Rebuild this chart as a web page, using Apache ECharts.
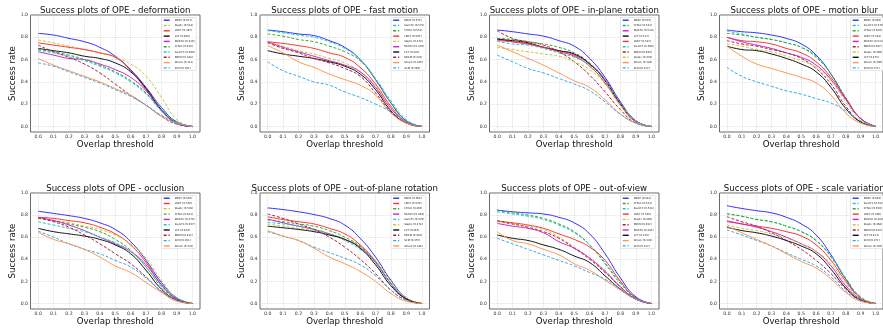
<!DOCTYPE html>
<html><head><meta charset="utf-8">
<script src="https://cdn.jsdelivr.net/npm/echarts@6/dist/echarts.min.js"></script>
<style>html,body{margin:0;padding:0;background:#fff}#c{width:883px;height:329px}</style>
</head><body><div id="c"></div>
<script>
// ---------- data ----------
const thresholds = [0, 0.1, 0.2, 0.3, 0.4, 0.5, 0.6, 0.7, 0.8, 0.9, 1.0];
const xTicks = [0, 0.1, 0.2, 0.3, 0.4, 0.5, 0.6, 0.7, 0.8, 0.9, 1.0];
const yTicks = [0, 0.2, 0.4, 0.6, 0.8, 1.0];
const attributes = ['deformation', 'fast motion', 'in-plane rotation', 'motion blur',
  'occlusion', 'out-of-plane rotation', 'out-of-view', 'scale variation'];

const orderDeformation = ['MBST','Staple','LMCF','LCT','MUSTer','CFNet','SiamFC','MEEM','Struck','SCM'];
const scoreDeformation = [0.517,0.514,0.487,0.486,0.436,0.426,0.409,0.388,0.312,0.301];
const curvesDeformation = {
  MBST:   [0.835,0.82,0.79,0.76,0.71,0.63,0.51,0.35,0.17,0.04,0.0],
  Staple: [0.775,0.75,0.72,0.69,0.66,0.62,0.56,0.45,0.26,0.06,0.0],
  LMCF:   [0.75,0.73,0.71,0.69,0.66,0.62,0.50,0.33,0.15,0.03,0.0],
  LCT:    [0.70,0.68,0.66,0.63,0.61,0.57,0.49,0.34,0.15,0.03,0.0],
  MUSTer: [0.67,0.64,0.61,0.60,0.56,0.51,0.44,0.32,0.14,0.03,0.0],
  CFNet:  [0.69,0.67,0.64,0.60,0.55,0.49,0.41,0.30,0.14,0.04,0.0],
  SiamFC: [0.685,0.66,0.63,0.59,0.54,0.48,0.40,0.29,0.15,0.04,0.0],
  MEEM:   [0.73,0.67,0.62,0.56,0.48,0.38,0.28,0.19,0.09,0.02,0.0],
  Struck: [0.61,0.55,0.50,0.45,0.40,0.34,0.28,0.19,0.09,0.03,0.0],
  SCM:    [0.57,0.54,0.49,0.44,0.39,0.33,0.27,0.19,0.10,0.03,0.0]
};

const orderFastMotion = ['MBST','SiamFC','CFNet','LMCF','Staple','MUSTer','LCT','MEEM','Struck','SCM'];
const scoreFastMotion = [0.576,0.571,0.551,0.507,0.478,0.476,0.447,0.442,0.389,0.289];
const curvesFastMotion = {
  MBST:   [0.865,0.85,0.83,0.815,0.77,0.71,0.60,0.42,0.21,0.05,0.0],
  SiamFC: [0.86,0.84,0.82,0.80,0.76,0.70,0.60,0.43,0.23,0.06,0.0],
  CFNet:  [0.83,0.81,0.78,0.76,0.72,0.67,0.59,0.42,0.21,0.05,0.0],
  LMCF:   [0.76,0.745,0.725,0.70,0.66,0.62,0.53,0.38,0.18,0.04,0.0],
  Staple: [0.76,0.72,0.68,0.65,0.61,0.57,0.49,0.36,0.17,0.04,0.0],
  MUSTer: [0.76,0.71,0.67,0.63,0.59,0.55,0.49,0.35,0.16,0.04,0.0],
  LCT:    [0.68,0.65,0.63,0.61,0.58,0.54,0.47,0.33,0.14,0.03,0.0],
  MEEM:   [0.75,0.70,0.66,0.61,0.57,0.52,0.45,0.30,0.13,0.03,0.0],
  Struck: [0.725,0.66,0.58,0.53,0.47,0.42,0.37,0.28,0.12,0.03,0.0],
  SCM:    [0.58,0.50,0.45,0.40,0.37,0.31,0.26,0.20,0.13,0.04,0.0]
};

const orderInPlane = ['MBST','CFNet','MUSTer','LCT','LMCF','SiamFC','MEEM','Staple','Struck','SCM'];
const scoreInPlane = [0.575,0.543,0.518,0.517,0.512,0.508,0.494,0.478,0.384,0.332];
const curvesInPlane = {
  MBST:   [0.865,0.85,0.83,0.81,0.77,0.72,0.61,0.44,0.22,0.05,0.0],
  CFNet:  [0.79,0.78,0.76,0.74,0.71,0.66,0.57,0.42,0.21,0.05,0.0],
  MUSTer: [0.79,0.76,0.74,0.71,0.68,0.64,0.56,0.42,0.21,0.05,0.0],
  LCT:    [0.78,0.77,0.75,0.71,0.68,0.65,0.56,0.41,0.20,0.04,0.0],
  LMCF:   [0.77,0.76,0.74,0.71,0.67,0.63,0.54,0.39,0.19,0.04,0.0],
  SiamFC: [0.765,0.74,0.73,0.70,0.66,0.62,0.55,0.41,0.21,0.05,0.0],
  MEEM:   [0.86,0.79,0.76,0.73,0.67,0.58,0.46,0.31,0.15,0.03,0.0],
  Staple: [0.71,0.69,0.67,0.65,0.63,0.58,0.51,0.38,0.19,0.04,0.0],
  Struck: [0.73,0.67,0.61,0.55,0.48,0.41,0.35,0.24,0.11,0.03,0.0],
  SCM:    [0.64,0.58,0.52,0.48,0.43,0.38,0.32,0.22,0.11,0.03,0.0]
};

const orderMotionBlur = ['MBST','SiamFC','CFNet','LMCF','MUSTer','MEEM','Staple','LCT','Struck','SCM'];
const scoreMotionBlur = [0.595,0.570,0.569,0.544,0.524,0.497,0.490,0.475,0.390,0.271];
const curvesMotionBlur = {
  MBST:   [0.865,0.85,0.84,0.82,0.79,0.74,0.64,0.47,0.25,0.07,0.0],
  SiamFC: [0.855,0.83,0.80,0.78,0.75,0.71,0.63,0.47,0.26,0.07,0.0],
  CFNet:  [0.835,0.82,0.80,0.78,0.75,0.71,0.62,0.47,0.25,0.07,0.0],
  LMCF:   [0.80,0.77,0.76,0.74,0.70,0.66,0.58,0.44,0.25,0.07,0.0],
  MUSTer: [0.80,0.76,0.73,0.70,0.66,0.62,0.55,0.42,0.24,0.07,0.0],
  MEEM:   [0.77,0.74,0.72,0.69,0.66,0.61,0.52,0.38,0.18,0.04,0.0],
  Staple: [0.74,0.72,0.69,0.67,0.63,0.59,0.53,0.41,0.22,0.06,0.0],
  LCT:    [0.72,0.69,0.68,0.65,0.61,0.56,0.49,0.35,0.16,0.04,0.0],
  Struck: [0.72,0.63,0.56,0.52,0.48,0.44,0.39,0.28,0.12,0.03,0.0],
  SCM:    [0.53,0.45,0.40,0.36,0.32,0.29,0.25,0.21,0.14,0.05,0.0]
};

const orderOcclusion = ['MBST','LMCF','Staple','CFNet','MUSTer','SiamFC','LCT','MEEM','SCM','Struck'];
const scoreOcclusion = [0.536,0.520,0.501,0.483,0.476,0.457,0.429,0.422,0.361,0.322];
const curvesOcclusion = {
  MBST:   [0.835,0.815,0.795,0.77,0.73,0.67,0.56,0.39,0.19,0.05,0.0],
  LMCF:   [0.78,0.77,0.75,0.73,0.69,0.63,0.53,0.37,0.17,0.04,0.0],
  Staple: [0.77,0.75,0.73,0.70,0.67,0.62,0.54,0.41,0.21,0.05,0.0],
  CFNet:  [0.77,0.75,0.72,0.69,0.65,0.58,0.48,0.33,0.15,0.04,0.0],
  MUSTer: [0.78,0.75,0.71,0.66,0.60,0.54,0.47,0.35,0.17,0.04,0.0],
  SiamFC: [0.74,0.71,0.68,0.65,0.60,0.55,0.47,0.33,0.16,0.05,0.0],
  LCT:    [0.68,0.65,0.63,0.61,0.58,0.53,0.45,0.30,0.13,0.03,0.0],
  MEEM:   [0.775,0.74,0.69,0.62,0.54,0.45,0.36,0.24,0.11,0.03,0.0],
  SCM:    [0.655,0.60,0.54,0.49,0.45,0.39,0.33,0.23,0.11,0.03,0.0],
  Struck: [0.645,0.58,0.54,0.49,0.42,0.34,0.28,0.19,0.10,0.02,0.0]
};

const orderOutOfPlane = ['MBST','LMCF','CFNet','MUSTer','SiamFC','Staple','LCT','MEEM','SCM','Struck'];
const scoreOutOfPlane = [0.566,0.520,0.491,0.489,0.479,0.478,0.467,0.461,0.375,0.346];
const curvesOutOfPlane = {
  MBST:   [0.865,0.85,0.83,0.805,0.77,0.71,0.59,0.42,0.21,0.05,0.0],
  LMCF:   [0.785,0.76,0.74,0.72,0.68,0.63,0.53,0.38,0.18,0.04,0.0],
  CFNet:  [0.755,0.74,0.72,0.70,0.66,0.60,0.52,0.38,0.18,0.04,0.0],
  MUSTer: [0.765,0.73,0.70,0.67,0.63,0.58,0.51,0.37,0.18,0.04,0.0],
  SiamFC: [0.735,0.72,0.70,0.67,0.63,0.57,0.49,0.37,0.18,0.05,0.0],
  Staple: [0.72,0.70,0.68,0.66,0.62,0.58,0.51,0.39,0.20,0.05,0.0],
  LCT:    [0.70,0.685,0.67,0.65,0.62,0.58,0.50,0.35,0.16,0.04,0.0],
  MEEM:   [0.81,0.77,0.72,0.67,0.60,0.51,0.40,0.27,0.12,0.03,0.0],
  SCM:    [0.65,0.61,0.57,0.51,0.46,0.41,0.35,0.25,0.12,0.03,0.0],
  Struck: [0.66,0.61,0.57,0.50,0.42,0.36,0.29,0.20,0.09,0.02,0.0]
};

const orderOutOfView = ['MBST','CFNet','SiamFC','LMCF','Staple','MEEM','MUSTer','LCT','Struck','SCM'];
const scoreOutOfView = [0.582,0.541,0.528,0.503,0.460,0.452,0.441,0.378,0.341,0.312];
const curvesOutOfView = {
  MBST:   [0.845,0.83,0.82,0.81,0.78,0.73,0.63,0.45,0.23,0.06,0.0],
  CFNet:  [0.845,0.82,0.80,0.77,0.72,0.65,0.53,0.36,0.18,0.05,0.0],
  SiamFC: [0.83,0.81,0.79,0.76,0.71,0.64,0.53,0.37,0.19,0.05,0.0],
  LMCF:   [0.745,0.73,0.71,0.68,0.63,0.58,0.51,0.39,0.20,0.05,0.0],
  Staple: [0.74,0.72,0.70,0.67,0.60,0.51,0.41,0.30,0.15,0.04,0.0],
  MEEM:   [0.75,0.72,0.69,0.65,0.59,0.50,0.40,0.28,0.15,0.04,0.0],
  MUSTer: [0.725,0.70,0.68,0.64,0.56,0.50,0.41,0.29,0.15,0.04,0.0],
  LCT:    [0.62,0.59,0.57,0.53,0.49,0.43,0.37,0.25,0.13,0.04,0.0],
  Struck: [0.65,0.57,0.54,0.49,0.44,0.36,0.30,0.21,0.12,0.04,0.0],
  SCM:    [0.59,0.54,0.49,0.44,0.39,0.34,0.28,0.22,0.13,0.04,0.0]
};

const orderScale = ['MBST','SiamFC','CFNet','LMCF','MUSTer','Staple','MEEM','LCT','SCM','Struck'];
const scoreScale = [0.585,0.552,0.550,0.500,0.480,0.468,0.434,0.433,0.371,0.350];
const curvesScale = {
  MBST:   [0.885,0.86,0.84,0.82,0.78,0.72,0.62,0.44,0.22,0.05,0.0],
  SiamFC: [0.815,0.79,0.76,0.74,0.70,0.65,0.57,0.43,0.23,0.06,0.0],
  CFNet:  [0.81,0.79,0.76,0.74,0.70,0.65,0.57,0.42,0.22,0.05,0.0],
  LMCF:   [0.75,0.72,0.70,0.68,0.65,0.61,0.53,0.39,0.20,0.05,0.0],
  MUSTer: [0.74,0.72,0.69,0.65,0.60,0.54,0.47,0.34,0.16,0.04,0.0],
  Staple: [0.71,0.68,0.66,0.63,0.59,0.54,0.47,0.36,0.18,0.05,0.0],
  MEEM:   [0.785,0.74,0.70,0.64,0.57,0.49,0.39,0.27,0.13,0.03,0.0],
  LCT:    [0.69,0.66,0.64,0.61,0.57,0.52,0.45,0.31,0.14,0.03,0.0],
  SCM:    [0.665,0.62,0.57,0.52,0.46,0.40,0.34,0.24,0.11,0.03,0.0],
  Struck: [0.70,0.64,0.58,0.52,0.45,0.38,0.32,0.22,0.10,0.02,0.0]
};

const panels = [
  [orderDeformation, scoreDeformation, curvesDeformation],
  [orderFastMotion, scoreFastMotion, curvesFastMotion],
  [orderInPlane, scoreInPlane, curvesInPlane],
  [orderMotionBlur, scoreMotionBlur, curvesMotionBlur],
  [orderOcclusion, scoreOcclusion, curvesOcclusion],
  [orderOutOfPlane, scoreOutOfPlane, curvesOutOfPlane],
  [orderOutOfView, scoreOutOfView, curvesOutOfView],
  [orderScale, scoreScale, curvesScale]
];

// ---------- styles ----------
const trackerStyle = {
  MBST:   {color: '#2f2fff', type: 'solid'},
  SiamFC: {color: '#22c8c8', type: 'dashed'},
  CFNet:  {color: '#33a833', type: 'dashed'},
  LMCF:   {color: '#ff3030', type: 'solid'},
  Staple: {color: '#c8c832', type: 'dashed'},
  MUSTer: {color: '#cc22cc', type: 'solid'},
  LCT:    {color: '#111111', type: 'solid'},
  MEEM:   {color: '#a82040', type: 'dashed'},
  Struck: {color: '#ff9650', type: 'solid'},
  SCM:    {color: '#30a8f0', type: 'dashed'}
};

const colLeft = [30.5, 260, 489.5, 719.5];
const frameW = 169.5;
const rowTop = [15, 193];
const frameH = [117, 116];
const FONT = 'DejaVu Sans';

const grid = [], xAxis = [], yAxis = [], series = [], title = [], legend = [];
panels.forEach(([order, scores, curves], i) => {
  const r = Math.floor(i / 4), c = i % 4;
  const L = colLeft[c], T = rowTop[r], W = frameW, H = frameH[r];
  grid.push({left: L, top: T, width: W, height: H, show: true,
    borderColor: '#444', borderWidth: 0.8, backgroundColor: '#fff'});
  xAxis.push({type: 'value', gridIndex: i, min: -0.05, max: 1.05,
    name: 'Overlap threshold', nameLocation: 'middle', nameGap: r === 0 ? 7 : 6.5,
    nameTextStyle: {fontSize: 8.6, fontFamily: FONT, color: '#111'},
    axisLine: {show: false}, axisTick: {show: false, customValues: xTicks},
    axisLabel: {customValues: xTicks, fontSize: 4.6, fontFamily: FONT, color: '#333', margin: 2,
      formatter: v => v.toFixed(1)},
    splitLine: {show: true, lineStyle: {color: '#c8c8c8', width: 0.6, type: [1, 1.2]}}});
  yAxis.push({type: 'value', gridIndex: i, min: -0.05, max: 1.0,
    name: 'Success rate', nameLocation: 'middle', nameGap: 12.5, nameRotate: 90,
    nameTextStyle: {fontSize: 8.6, fontFamily: FONT, color: '#111'},
    axisLine: {show: false}, axisTick: {show: false, customValues: yTicks},
    axisLabel: {customValues: yTicks, fontSize: 4.6, fontFamily: FONT, color: '#333', margin: 2.5,
      formatter: v => v.toFixed(1)},
    splitLine: {show: true, lineStyle: {color: '#c8c8c8', width: 0.6, type: [1, 1.2]}}});
  title.push({text: 'Success plots of OPE - ' + attributes[i], left: L + W / 2, top: T - 8.8,
    textAlign: 'center', padding: 0,
    textStyle: {fontSize: 8.6, fontFamily: FONT, fontWeight: 'normal', color: '#111'}});
  const names = [];
  order.forEach((tr, k) => {
    const nm = tr + ' [' + scores[k].toFixed(3) + ']';
    names.push(nm);
    const st = trackerStyle[tr];
    series.push({type: 'line', name: nm, xAxisIndex: i, yAxisIndex: i,
      data: thresholds.map((t, j) => [t, curves[tr][j]]),
      symbol: 'none', smooth: 0.5, silent: true,
      color: st.color,
      lineStyle: {color: st.color, width: 1, type: st.type === 'dashed' ? [3, 1.8] : 'solid'},
      z: 10 + k});
  });
  legend.push({data: names, orient: 'vertical', left: L + 131, top: T + 2.5,
    itemWidth: 6, itemHeight: 3.4, itemGap: 1.9, padding: [1, 1.5, 1, 1.5],
    borderColor: '#cccccc', borderWidth: 0.5, borderRadius: 1,
    backgroundColor: 'rgba(255,255,255,0.85)', selectedMode: false,
    lineStyle: {width: 1.4}, itemStyle: {opacity: 0},
    textStyle: {fontSize: 2.6, fontFamily: FONT, color: '#222', lineHeight: 3.4}});
});

const chart = echarts.init(document.getElementById('c'), null, {renderer: 'canvas'});
chart.setOption({animation: false, backgroundColor: '#fff', title, legend, grid, xAxis, yAxis, series});
</script></body></html>
